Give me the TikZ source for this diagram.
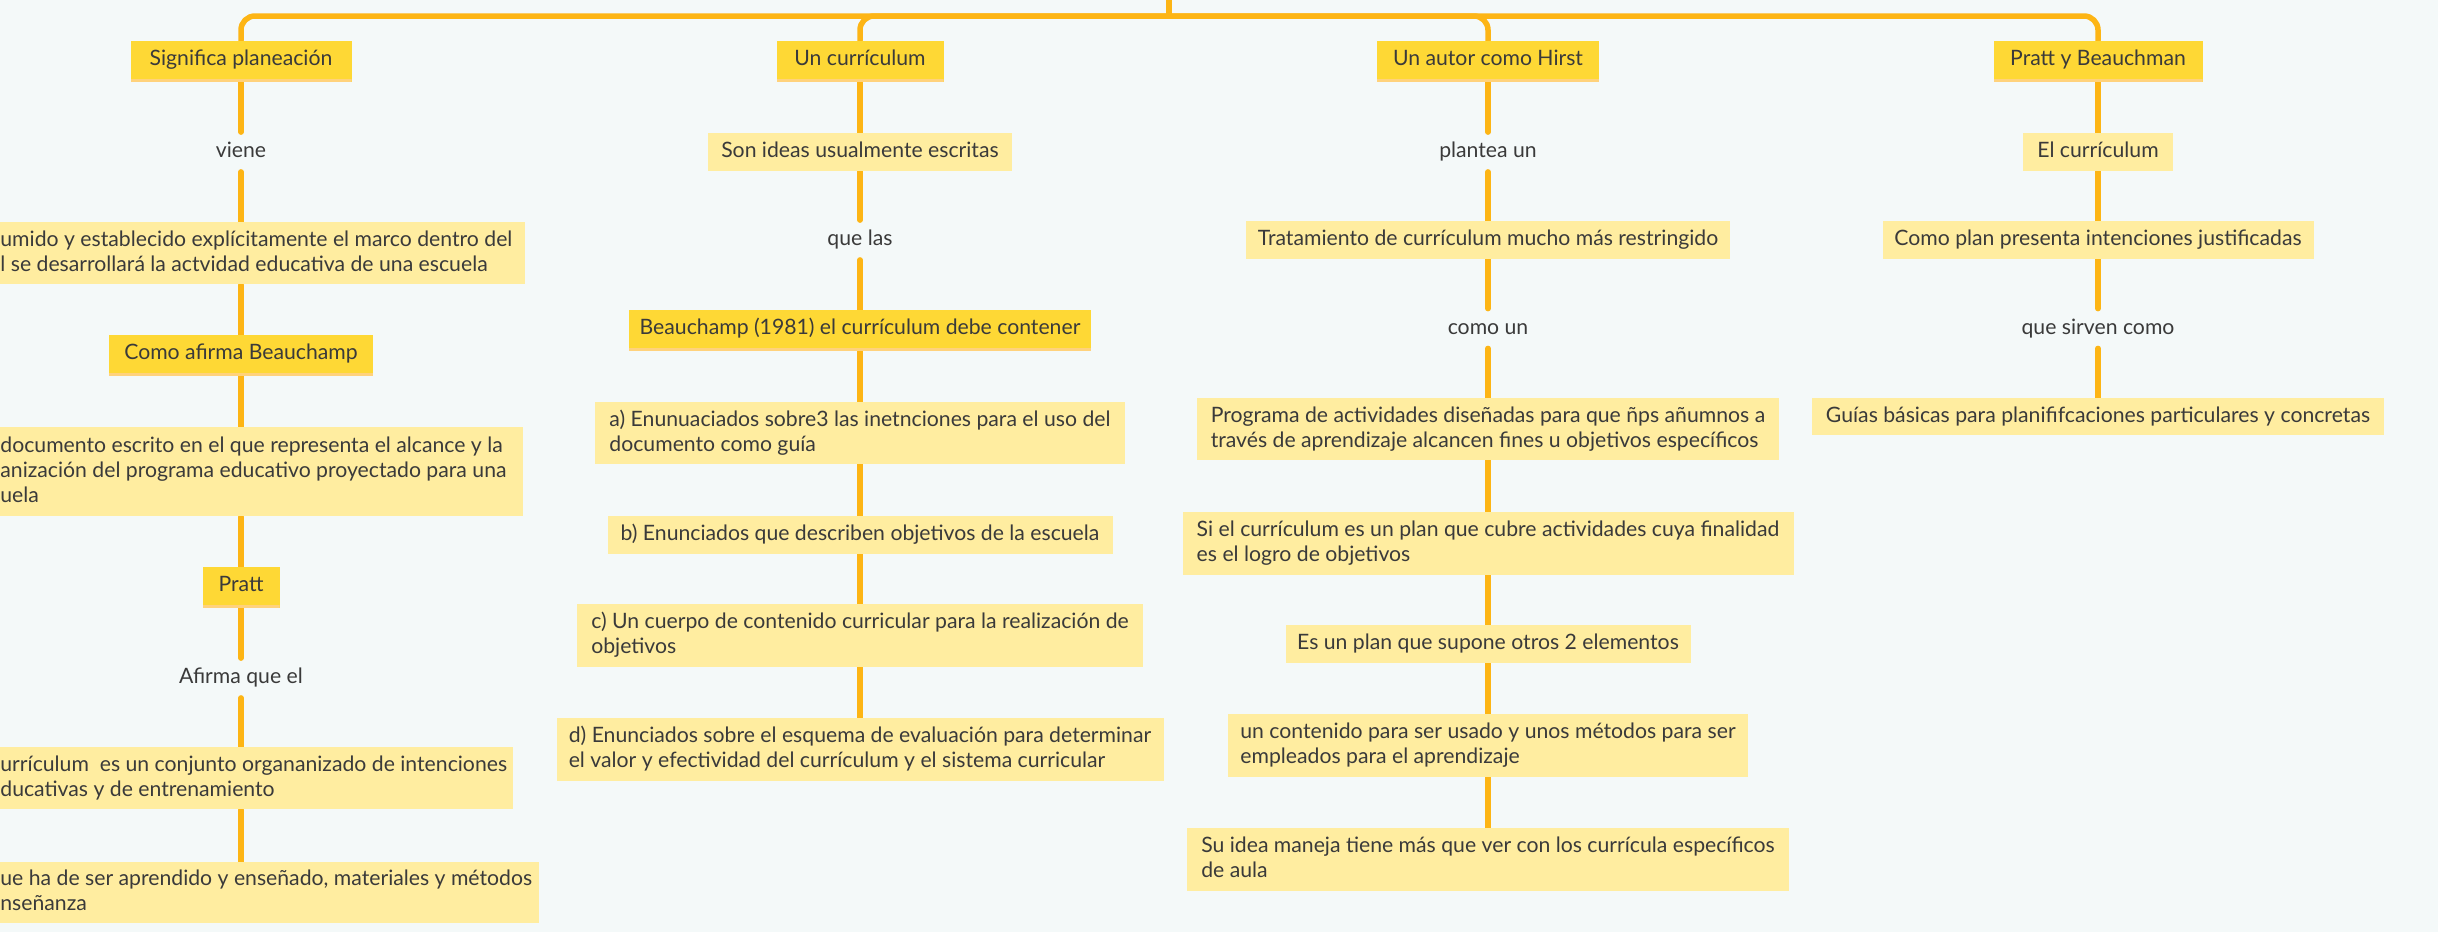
\documentclass[tikz,border=0pt]{standalone}
\usepackage{fontspec}
\setmainfont{Lato}
\definecolor{bgC}{HTML}{F4F9F9}
\definecolor{lineC}{HTML}{FDB515}
\definecolor{darkY}{HTML}{FED835}
\definecolor{lightY}{HTML}{FFEDA0}
\definecolor{stripeC}{HTML}{FFD27C}
\definecolor{txtC}{HTML}{3A3A3A}
\pgfdeclarelayer{bglayer}
\pgfdeclarelayer{edgelayer}
\pgfsetlayers{bglayer,edgelayer,main}
\newcommand\ms{\rule[-2.5pt]{0pt}{10.5pt}}
\newcommand\cutline[2]{\makebox[#1][l]{\ms #2}}
\tikzset{
  conn/.style={draw=lineC, line width=2.75pt, line cap=round},
  branch/.style={conn, rounded corners=7pt},
  base/.style={text=txtC, inner sep=0pt, font=\fontsize{10.6pt}{12.5pt}\selectfont},
  topic/.style={base, fill=darkY, minimum height=20.5pt, text height=8pt, text depth=4.5pt,
    path picture={\fill[stripeC] ([yshift=1.5pt]path picture bounding box.south west) rectangle (path picture bounding box.south east);}},
  sub/.style={base, fill=lightY, minimum height=19pt, text height=8pt, text depth=2.5pt},
  multi/.style={base, fill=lightY, align=left},
  cut/.style={multi, anchor=north west},
  lbl/.style={base, minimum height=19.5pt, text height=8pt, text depth=2.5pt}
}
\begin{document}
\begin{tikzpicture}[x=0.5pt,y=-0.5pt]
\useasboundingbox (0,0) rectangle (2438,932);
\begin{pgfonlayer}{bglayer}
\fill[bgC] (0,0) rectangle (2438,932);
\end{pgfonlayer}

\coordinate (root) at (1169,-10);
\coordinate (hub) at (1169,16);

% column 1
\node[topic, minimum width=110.5pt] (n11) at (241,61.5) {Significa planeación};
\node[lbl] (l11) at (241,152) {viene};
\node[cut, minimum height=31pt] (n12) at (0,222)
  {\cutline{262.5pt}{umido y establecido explícitamente el marco dentro del}\\\cutline{262.5pt}{l se desarrollará la actvidad educativa de una escuela}};
\node[topic, minimum width=132pt] (n13) at (241,355.5) {Como afirma Beauchamp};
\node[cut, minimum height=44.5pt] (n14) at (0,427)
  {\cutline{261.5pt}{documento escrito en el que representa el alcance y la}\\\cutline{261.5pt}{anización del programa educativo proyectado para una}\\\cutline{261.5pt}{uela}};
\node[topic, minimum width=38.5pt] (n15) at (241,587.5) {Pratt};
\node[lbl] (l12) at (241,678) {Afirma que el};
\node[cut, minimum height=31pt] (n16) at (0,747)
  {\cutline{256.5pt}{urrículum~ es un conjunto organanizado de intenciones}\\\cutline{256.5pt}{ducativas y de entrenamiento}};
\node[cut, minimum height=30.5pt] (n17) at (0,862)
  {\cutline{269.5pt}{ue ha de ser aprendido y enseñado, materiales y métodos}\\\cutline{269.5pt}{nseñanza}};

% column 2
\node[topic, minimum width=83.5pt] (n21) at (860,61.5) {Un currículum};
\node[sub, minimum width=152pt] (n22) at (860,152) {Son ideas usualmente escritas};
\node[lbl] (l21) at (860,240) {que las};
\node[topic, minimum width=231pt] (n23) at (860,330.5) {Beauchamp (1981) el currículum debe contener};
\node[multi, minimum width=265pt, minimum height=31pt] (n24) at (860,433)
  {\ms a) Enunuaciados sobre3 las inetnciones para el uso del\\\ms documento como guía};
\node[sub, minimum width=252.5pt] (n25) at (860,535) {b) Enunciados que describen objetivos de la escuela};
\node[multi, minimum width=283pt, minimum height=31.5pt] (n26) at (860,635.5)
  {\ms c) Un cuerpo de contenido curricular para la realización de\\\ms objetivos};
\node[multi, minimum width=303.5pt, minimum height=31.5pt] (n27) at (860,749.5)
  {\ms d) Enunciados sobre el esquema de evaluación para determinar\\\ms el valor y efectividad del currículum y el sistema curricular};

% column 3
\node[topic, minimum width=111pt] (n31) at (1488,61.5) {Un autor como Hirst};
\node[lbl] (l31) at (1488,152) {plantea un};
\node[sub, minimum width=242pt] (n32) at (1488,240) {Tratamiento de currículum mucho más restringido};
\node[lbl] (l32) at (1488,328.5) {como un};
\node[multi, minimum width=291pt, minimum height=31pt] (n33) at (1488,429)
  {\ms Programa de actividades diseñadas para que ñps añumnos a\\\ms través de aprendizaje alcancen fines u objetivos específicos};
\node[multi, minimum width=305.5pt, minimum height=31.5pt] (n34) at (1488,543.5)
  {\ms Si el currículum es un plan que cubre actividades cuya finalidad\\\ms es el logro de objetivos};
\node[sub, minimum width=202.5pt] (n35) at (1488,644) {Es un plan que supone otros 2 elementos};
\node[multi, minimum width=260pt, minimum height=31.5pt] (n36) at (1488,745.5)
  {\ms un contenido para ser usado y unos métodos para ser\\\ms empleados para el aprendizaje};
\node[multi, minimum width=301pt, minimum height=31.5pt] (n37) at (1488,859.5)
  {\ms Su idea maneja tiene más que ver con los currícula específicos\\\ms de aula};

% column 4
\node[topic, minimum width=104.5pt] (n41) at (2098,61.5) {Pratt y Beauchman};
\node[sub, minimum width=75pt] (n42) at (2098,152) {El currículum};
\node[sub, minimum width=215.5pt] (n43) at (2098,240) {Como plan presenta intenciones justificadas};
\node[lbl] (l41) at (2098,328.5) {que sirven como};
\node[sub, minimum width=286pt, minimum height=18.5pt] (n44) at (2098,416.5) {Guías básicas para planififcaciones particulares y concretas};

\begin{pgfonlayer}{edgelayer}
% trunk and branches
\draw[conn, line cap=butt] (root) -- (hub);
\draw[branch] (hub) -| (n11.north);
\draw[branch] (hub) -| (n21.north);
\draw[branch] (hub) -| (n31.north);
\draw[branch] (hub) -| (n41.north);
% column 1
\draw[conn] (n11.south) -- (l11.north);
\draw[conn] (l11.south) -- (l11.south |- n12.north);
\draw[conn] (n13.north |- n12.south) -- (n13.north);
\draw[conn] (n13.south) -- (n13.south |- n14.north);
\draw[conn] (n15.north |- n14.south) -- (n15.north);
\draw[conn] (n15.south) -- (l12.north);
\draw[conn] (l12.south) -- (l12.south |- n16.north);
\draw[conn] (l12.south |- n16.south) -- (l12.south |- n17.north);
% column 2
\draw[conn] (n21.south) -- (n22.north);
\draw[conn] (n22.south) -- (l21.north);
\draw[conn] (l21.south) -- (n23.north);
\draw[conn] (n23.south) -- (n24.north);
\draw[conn] (n24.south) -- (n25.north);
\draw[conn] (n25.south) -- (n26.north);
\draw[conn] (n26.south) -- (n27.north);
% column 3
\draw[conn] (n31.south) -- (l31.north);
\draw[conn] (l31.south) -- (n32.north);
\draw[conn] (n32.south) -- (l32.north);
\draw[conn] (l32.south) -- (n33.north);
\draw[conn] (n33.south) -- (n34.north);
\draw[conn] (n34.south) -- (n35.north);
\draw[conn] (n35.south) -- (n36.north);
\draw[conn] (n36.south) -- (n37.north);
% column 4
\draw[conn] (n41.south) -- (n42.north);
\draw[conn] (n42.south) -- (n43.north);
\draw[conn] (n43.south) -- (l41.north);
\draw[conn] (l41.south) -- (n44.north);
\end{pgfonlayer}
\end{tikzpicture}
\end{document}
